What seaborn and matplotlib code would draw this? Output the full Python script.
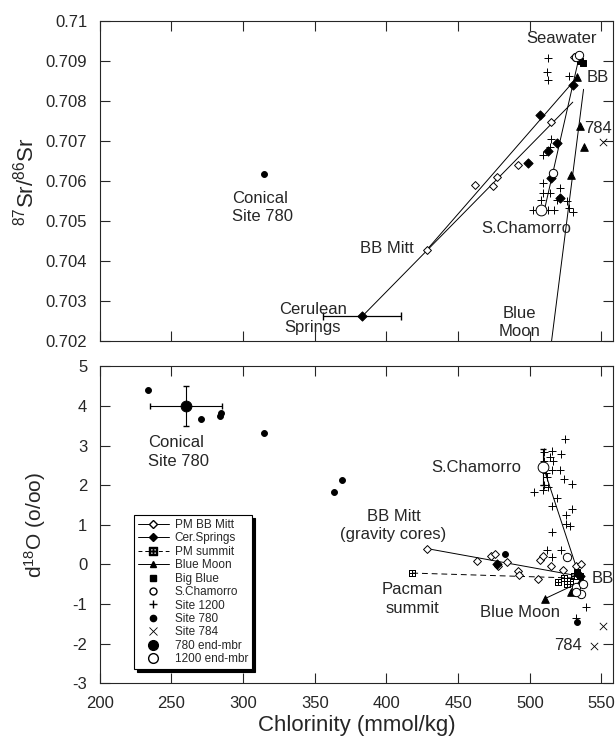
import matplotlib
matplotlib.use('Agg')
import matplotlib.pyplot as plt
import seaborn as sns
import pandas as pd
from matplotlib.lines import Line2D

# ---------------- data: top panel (87Sr/86Sr vs chlorinity) ----------------
sr_bbmitt_cl = [428, 462, 474, 477, 491.5, 514.5, 531, 534]
sr_bbmitt_sr = [0.70428, 0.7059, 0.70588, 0.70612, 0.7064, 0.70748, 0.70912, 0.70905]
sr_cer_cl = [383, 498.5, 507, 513, 515, 519, 521, 530]
sr_cer_sr = [0.70262, 0.70645, 0.70765, 0.70675, 0.70608, 0.70695, 0.70558, 0.7084]
sr_bluemoon_cl = [533, 534.7, 537.5, 528.5]
sr_bluemoon_sr = [0.7086, 0.70738, 0.70685, 0.70615]
sr_bigblue_cl = [535, 537]
sr_bigblue_sr = [0.70902, 0.70895]
sr_scham_cl = [516, 532.5, 534.5]
sr_scham_sr = [0.7062, 0.7091, 0.70915]
sr_1200_cl = [512.5, 511.7, 513, 527.7, 509, 514, 515, 509, 509, 514, 508, 502,
              512.5, 517, 519, 521, 525.7, 527.7, 530]
sr_1200_sr = [0.70908, 0.70873, 0.70853, 0.70863, 0.70665, 0.70685, 0.70707, 0.70595,
              0.7057, 0.7057, 0.70553, 0.70528, 0.70528, 0.70528, 0.70553, 0.70583,
              0.7055, 0.70533, 0.70523]
sr_780_cl = [314.4]
sr_780_sr = [0.70618]
sr_784_cl = [551]
sr_784_sr = [0.70698]
sr_end1200_cl = [508]
sr_end1200_sr = [0.70528]
sr_cer_err = 27

# mixing lines (end points)
sr_line_cer = ([383, 530], [0.70262, 0.70798])
sr_line_bbmitt = ([428, 533], [0.70428, 0.7086])
sr_line_scham = ([535, 510], [0.7092, 0.70525])
sr_line_bluemoon = ([537.5, 515], [0.7083, 0.70195])

# ---------------- data: bottom panel (d18O vs chlorinity) ----------------
o_bbmitt_cl = [428, 463.5, 472.6, 475.5, 477.6, 484, 492, 492.8, 507, 509, 514.5,
               523, 532, 535.8, 505.6]
o_bbmitt_o = [0.4, 0.09, 0.22, 0.26, -0.03, 0.07, -0.18, -0.27, 0.1, 0.22, -0.05,
              -0.13, -0.03, 0.0, -0.37]
o_cer_cl = [477, 535]
o_cer_o = [0.0, -0.3]
o_summit_cl = [418, 519.6, 524, 528, 531, 526]
o_summit_o = [-0.22, -0.45, -0.35, -0.42, -0.3, -0.5]
o_bluemoon_cl = [510.3, 529, 535, 532]
o_bluemoon_o = [-0.87, -0.71, -0.44, -0.6]
o_bigblue_cl = [535, 533]
o_bigblue_o = [-0.3, -0.2]
o_scham_cl = [526, 532.4, 537, 536, 532.4]
o_scham_o = [0.18, -0.58, -0.5, -0.75, -0.71]
o_1200_cl = [524.8, 510.2, 515.3, 514.1, 521.8, 516.1, 515.3, 520.9, 523.8, 529.7,
             502.8, 509, 519, 515.8, 529.7, 525, 525, 528, 515.3, 512.3, 515.3,
             521.8, 539.3, 532, 510, 511, 512, 510, 513]
o_1200_o = [3.17, 2.83, 2.86, 2.72, 2.78, 2.6, 2.38, 2.38, 2.15, 2.04, 1.82, 1.88,
            1.67, 1.48, 1.41, 1.24, 1.03, 0.97, 0.81, 0.35, 0.18, 0.35, -1.07,
            -1.35, 2.6, 2.3, 2.2, 2.0, 1.95]
o_780_cl = [233.5, 270.4, 283.7, 284.4, 314.4, 368.8, 363.2, 483, 532.6]
o_780_o = [4.39, 3.68, 3.75, 3.83, 3.32, 2.12, 1.82, 0.26, -1.45]
o_784_cl = [551, 545]
o_784_o = [-1.55, -2.05]
o_end780_cl = [260]
o_end780_o = [4.0]
o_end780_xerr = 25
o_end780_yerr = 0.5
o_end1200_cl = [509]
o_end1200_o = [2.45]
o_end1200_yerr = 0.45

o_line_bbmitt = ([428, 535], [0.4, -0.3])
o_line_summit = ([418, 535], [-0.22, -0.35])
o_line_scham = ([510, 535], [2.4, -0.35])
o_line_bluemoon = ([510.3, 535], [-0.87, -0.45])

# ---------------- style ----------------
sns.set_style('ticks')
plt.rcParams['font.family'] = ['Liberation Sans', 'DejaVu Sans']
plt.rcParams['mathtext.fontset'] = 'custom'
plt.rcParams['mathtext.rm'] = 'Liberation Sans'
plt.rcParams['mathtext.default'] = 'regular'
plt.rcParams['axes.unicode_minus'] = False

fig = plt.figure(figsize=(6.16, 7.37), dpi=100)
ax1 = fig.add_axes([0.162, 0.537, 0.833, 0.434])
ax2 = fig.add_axes([0.162, 0.073, 0.833, 0.430])


def draw_line(ax, pts, ls='-', lw=0.7):
    d = pd.DataFrame({'x': pts[0], 'y': pts[1]})
    sns.lineplot(data=d, x='x', y='y', ax=ax, color='black', lw=lw, ls=ls,
                 sort=False, estimator=None)


def dots(ax, xs, ys, marker, s, face='black', edge='black', lw=0.7):
    d = pd.DataFrame({'x': xs, 'y': ys})
    sns.scatterplot(data=d, x='x', y='y', ax=ax, marker=marker, s=s,
                    color=face, edgecolor=edge, linewidth=lw, zorder=3)


# ---- top panel ----
for ln in [sr_line_cer, sr_line_bbmitt, sr_line_scham, sr_line_bluemoon]:
    draw_line(ax1, ln)
ax1.errorbar(sr_cer_cl[0], sr_cer_sr[0], xerr=sr_cer_err, fmt='none',
             ecolor='black', elinewidth=0.9, capsize=3)
dots(ax1, sr_bbmitt_cl, sr_bbmitt_sr, 'D', 16, face='white')
dots(ax1, sr_cer_cl, sr_cer_sr, 'D', 22)
dots(ax1, sr_bluemoon_cl, sr_bluemoon_sr, '^', 30)
dots(ax1, sr_bigblue_cl, sr_bigblue_sr, 's', 22)
dots(ax1, sr_scham_cl, sr_scham_sr, 'o', 36, face='white')
dots(ax1, sr_1200_cl, sr_1200_sr, '+', 30)
dots(ax1, sr_780_cl, sr_780_sr, 'o', 18)
dots(ax1, sr_784_cl, sr_784_sr, 'x', 28, lw=0.6)
dots(ax1, sr_end1200_cl, sr_end1200_sr, 'o', 60, face='white')

ax1.set_xlim(200, 558)
ax1.set_ylim(0.702, 0.71)
ax1.set_yticks([0.702 + 0.001 * i for i in range(9)])
ax1.set_yticklabels(['0.702', '0.703', '0.704', '0.705', '0.706', '0.707',
                     '0.708', '0.709', '0.71'])
ax1.set_xticks(range(200, 551, 50))
ax1.set_xlabel('')
ax1.set_ylabel(r'$^{87}$Sr/$^{86}$Sr', fontsize=16)
ax1.yaxis.set_label_coords(-0.12, 0.5)
ax1.tick_params(labelbottom=False)

fs = 12
ax1.text(522, 0.70958, 'Seawater', fontsize=fs, ha='center', va='center')
ax1.text(539.6, 0.7086, 'BB', fontsize=fs, ha='left', va='center')
ax1.text(538, 0.70733, '784', fontsize=fs, ha='left', va='center')
ax1.text(497.8, 0.70483, 'S.Chamorro', fontsize=fs, ha='center', va='center')
ax1.text(493, 0.70247, 'Blue\nMoon', fontsize=fs, ha='center', va='center',
         linespacing=1.3)
ax1.text(400, 0.70433, 'BB Mitt', fontsize=fs, ha='center', va='center')
ax1.text(348.5, 0.70257, 'Cerulean\nSprings', fontsize=fs, ha='center',
         va='center', linespacing=1.3)
ax1.text(292, 0.70534, 'Conical\nSite 780', fontsize=fs, ha='left',
         va='center', linespacing=1.3)

# ---- bottom panel ----
draw_line(ax2, o_line_bbmitt)
draw_line(ax2, o_line_summit, ls=(0, (6, 4)))
draw_line(ax2, o_line_scham)
draw_line(ax2, o_line_bluemoon)
ax2.errorbar(o_end780_cl[0], o_end780_o[0], xerr=o_end780_xerr,
             yerr=o_end780_yerr, fmt='none', ecolor='black', elinewidth=0.8,
             capsize=2.5)
ax2.errorbar(o_end1200_cl[0], o_end1200_o[0], yerr=o_end1200_yerr, fmt='none',
             ecolor='black', elinewidth=0.8, capsize=2.5)
dots(ax2, o_bbmitt_cl, o_bbmitt_o, 'D', 16, face='white')
dots(ax2, o_cer_cl, o_cer_o, 'D', 22)
dots(ax2, o_summit_cl, o_summit_o, '$\u229E$', 22)
dots(ax2, o_bluemoon_cl, o_bluemoon_o, '^', 30)
dots(ax2, o_bigblue_cl, o_bigblue_o, 's', 22)
dots(ax2, o_scham_cl, o_scham_o, 'o', 36, face='white')
dots(ax2, o_1200_cl, o_1200_o, '+', 30)
dots(ax2, o_780_cl, o_780_o, 'o', 18)
dots(ax2, o_784_cl, o_784_o, 'x', 28, lw=0.6)
dots(ax2, o_end780_cl, o_end780_o, 'o', 60)
dots(ax2, o_end1200_cl, o_end1200_o, 'o', 60, face='white')

ax2.set_xlim(200, 558)
ax2.set_ylim(-3, 5)
ax2.set_yticks(range(-3, 6))
ax2.set_xticks(range(200, 551, 50))
ax2.set_xlabel('Chlorinity (mmol/kg)', fontsize=16, labelpad=3)
ax2.set_ylabel('d$^{18}$O (o/oo)', fontsize=15)
ax2.yaxis.set_label_coords(-0.1, 0.5)

ax2.text(463, 2.45, 'S.Chamorro', fontsize=fs, ha='center', va='center')
ax2.text(405, 0.98, 'BB Mitt\n(gravity cores)', fontsize=fs, ha='center',
         va='center', linespacing=1.3)
ax2.text(418, -0.87, 'Pacman\nsummit', fontsize=fs, ha='center', va='center',
         linespacing=1.3)
ax2.text(543, -0.36, 'BB', fontsize=fs, ha='left', va='center')
ax2.text(493, -1.22, 'Blue Moon', fontsize=fs, ha='center', va='center')
ax2.text(526.5, -2.06, '784', fontsize=fs, ha='center', va='center')
ax2.text(233.5, 2.83, 'Conical\nSite 780', fontsize=fs, ha='left', va='center',
         linespacing=1.3)

for ax in (ax1, ax2):
    ax.tick_params(direction='in', length=7, width=0.8, top=True, right=True,
                   labelsize=12, pad=9)
    for sp in ax.spines.values():
        sp.set_linewidth(0.8)
        sp.set_visible(True)

legend_names = ['PM BB Mitt', 'Cer.Springs', 'PM summit', 'Blue Moon', 'Big Blue',
                'S.Chamorro', 'Site 1200', 'Site 780', 'Site 784', '780 end-mbr',
                '1200 end-mbr']
handles = [
    Line2D([], [], color='k', lw=0.7, marker='D', ms=4, mfc='white', mec='k'),
    Line2D([], [], color='k', lw=0.7, marker='D', ms=4.5, mfc='k', mec='k'),
    Line2D([], [], color='k', lw=0.7, ls=(0, (4, 3)), marker='$\u229E$', ms=6),
    Line2D([], [], color='k', lw=0.7, marker='^', ms=5, mfc='k'),
    Line2D([], [], ls='none', marker='s', ms=4.5, color='k'),
    Line2D([], [], ls='none', marker='o', ms=5, mfc='white', mec='k'),
    Line2D([], [], ls='none', marker='+', ms=6, color='k'),
    Line2D([], [], ls='none', marker='o', ms=4.5, color='k'),
    Line2D([], [], ls='none', marker='x', ms=5.5, color='k', mew=0.6),
    Line2D([], [], ls='none', marker='o', ms=7, color='k'),
    Line2D([], [], ls='none', marker='o', ms=7, mfc='white', mec='k'),
]
leg = ax2.legend(handles, legend_names, loc='lower left',
                 bbox_to_anchor=(0.055, 0.025), fontsize=8.5, frameon=True,
                 fancybox=False, edgecolor='black', handlelength=2.6,
                 handletextpad=0.5, labelspacing=0.12, borderpad=0.35,
                 shadow={'color': 'black', 'alpha': 1})
leg.get_frame().set_linewidth(0.8)

fig.savefig('out.png', dpi=100)
